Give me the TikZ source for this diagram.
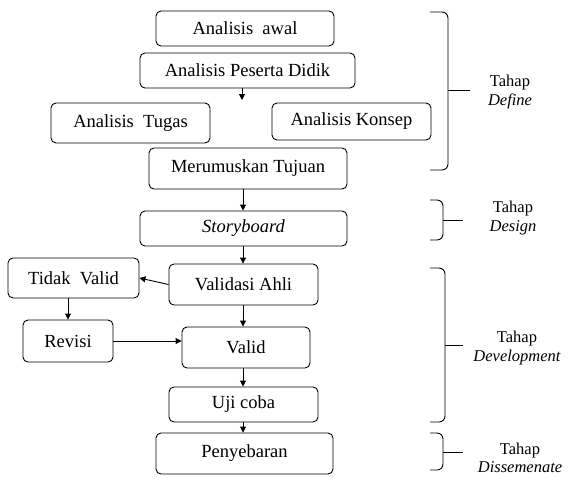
\documentclass[tikz,border=0pt]{standalone}
\usepackage{fontspec}
\setmainfont{Liberation Serif}
\usetikzlibrary{arrows.meta,calc}
\begin{document}
\begin{tikzpicture}[x=1pt,y=-1pt,
 box/.style={draw,rounded corners=5pt,line width=0.9pt,inner sep=0pt,font=\fontsize{18.5}{22}\selectfont},
 arr/.style={line width=0.9pt,-{Triangle[length=6pt,width=6pt]}},
 brace/.style={line width=0.9pt,rounded corners=6pt},
 tipline/.style={line width=0.9pt},
 lab/.style={align=center,font=\fontsize{16.5}{18.5}\selectfont}]
\useasboundingbox (0,0) rectangle (583,477);
% boxes
\node[box,minimum width=178,minimum height=35] (aa) at (245,28.5) {Analisis\ \ awal};
\node[box,minimum width=215,minimum height=35] (pd) at (247.5,70.5) {Analisis Peserta Didik};
\node[box,minimum width=159,minimum height=40] (at) at (130.5,123) {Analisis\ \ Tugas};
\node[box,minimum width=159,minimum height=37] (ak) at (351.5,121.5) {Analisis Konsep};
\node[box,minimum width=198,minimum height=41] (mt) at (248,168.5) {Merumuskan Tujuan};
\node[box,minimum width=207,minimum height=35] (sb) at (243.5,228.5) {\itshape Storyboard};
\node[box,minimum width=149,minimum height=41] (va) at (243.5,284.5) {Validasi Ahli};
\node[box,minimum width=131,minimum height=40] (tv) at (73.5,278) {Tidak\ \ Valid};
\node[box,minimum width=90,minimum height=42] (rv) at (68,341) {Revisi};
\node[box,minimum width=128,minimum height=41] (vl) at (246,347.5) {Valid};
\node[box,minimum width=149,minimum height=35] (uc) at (243.5,404.5) {Uji coba};
\node[box,minimum width=177,minimum height=41] (pb) at (244.5,453.5) {Penyebaran};
% arrows
\coordinate (ax) at (243,0);
\coordinate (pdend) at (242,100);
\draw[arr] (pdend |- pd.south) -- (pdend);
\draw[arr] (ax |- mt.south) -- (ax |- sb.north);
\draw[arr] (ax |- sb.south) -- (ax |- va.north);
\draw[arr] (ax |- va.south) -- (ax |- vl.north);
\draw[arr] (ax |- vl.south) -- (ax |- uc.north);
\draw[arr] (ax |- uc.south) -- (ax |- pb.north);
\draw[arr] (va.west) -- (tv.east);
\draw[arr] (rv.north |- tv.south) -- (rv.north);
\draw[arr] (rv.east) -- (rv.east -| vl.west);
% braces
\draw[brace] (430,12) -- (448,12) -- (448,90);
\draw[brace] (448,90) -- (448,170) -- (430,170);
\draw[tipline] (448,90) -- (470,90);
\node[lab] (ldef) at (510,92) {Tahap\\\itshape Define};
\draw[brace] (430,200) -- (443,200) -- (443,220);
\draw[brace] (443,220) -- (443,240) -- (430,240);
\draw[tipline] (443,220) -- (463,220);
\node[lab] (ldes) at (513,218) {Tahap\\\itshape Design};
\draw[brace] (430,268) -- (445,268) -- (445,345);
\draw[brace] (445,345) -- (445,422) -- (430,422);
\draw[tipline] (445,345) -- (463,345);
\node[lab] (ldev) at (517,348) {Tahap\\\itshape Development};
\draw[brace] (430,433) -- (443,433) -- (443,452);
\draw[brace] (443,452) -- (443,470) -- (430,470);
\draw[tipline] (443,452) -- (463,452);
\node[lab] (ldis) at (520,458) {Tahap\\\itshape Dissemenate};
\end{tikzpicture}
\end{document}
